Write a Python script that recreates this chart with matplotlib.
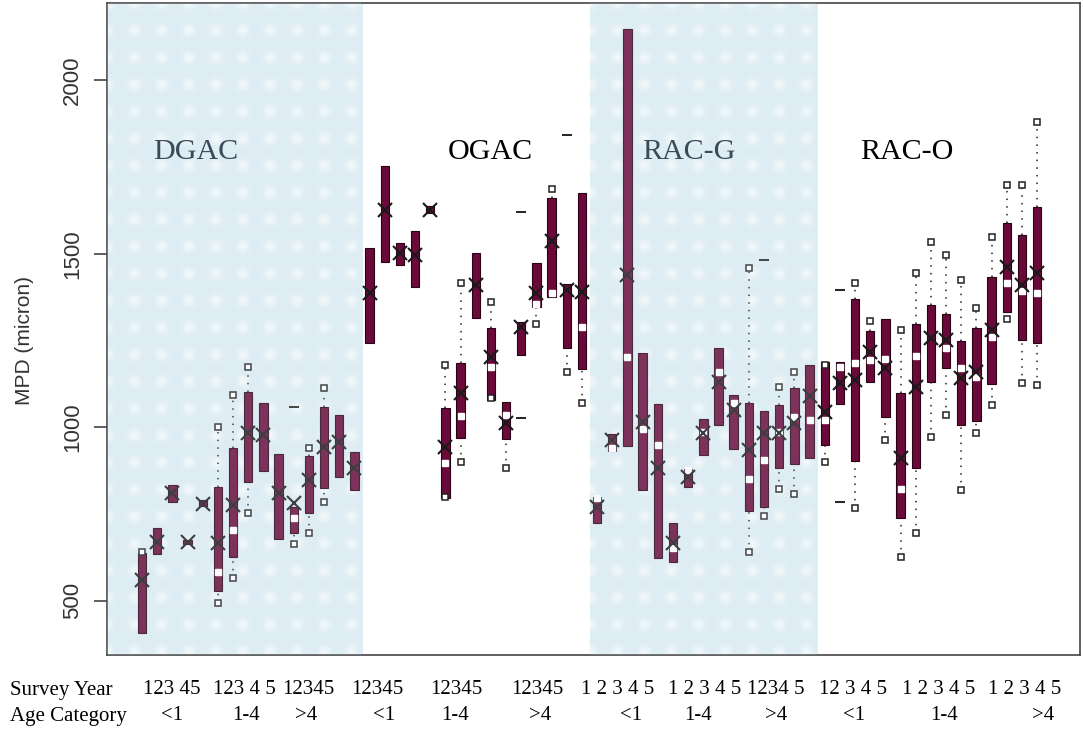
import numpy as np
import matplotlib
matplotlib.use('Agg')
import matplotlib.pyplot as plt

nan = np.nan

groups = ['DGAC', 'OGAC', 'RAC-G', 'RAC-O']
ages = ['<1', '1-4', '>4']

# 15 boxes per group: age <1, 1-4, >4, each survey year 1..5
box_lo = [408, 635, 785, 664, 772, 529, 627, 843, 875, 679, 696, 754, 826, 857, 820,
          1243, 1477, 1468, 1405, 1617, 797, 970, 1316, 1079, 967, 1209, 1347, 1377, 1229, 1169,
          725, 932, 947, 820, 624, 612, 828, 921, 1007, 938, 759, 771, 883, 895, 912,
          950, 1068, 903, 1131, 1030, 739, 883, 1131, 1171, 1007, 1019, 1125, 1333, 1252, 1243]
box_hi = [638, 710, 834, 676, 790, 828, 941, 1102, 1070, 924, 771, 918, 1059, 1036, 929,
          1517, 1754, 1532, 1566, 1638, 1056, 1186, 1503, 1287, 1073, 1304, 1474, 1661, 1414, 1676,
          800, 981, 2148, 1215, 1066, 725, 880, 1024, 1229, 1093, 1070, 1047, 1065, 1114, 1180,
          1189, 1189, 1370, 1278, 1313, 1099, 1298, 1353, 1327, 1249, 1287, 1434, 1589, 1555, 1635]
medians = [nan, nan, nan, nan, nan, 584, 705, nan, nan, nan, 739, nan, nan, nan, nan,
           nan, nan, nan, nan, nan, 898, 1033, nan, 1174, 1036, nan, 1356, 1388, nan, 1290,
           797, 941, 1203, 995, 950, 653, 877, 987, 1160, 1070, 851, 906, 987, 1030, 1020,
           1022, 1175, 1186, 1195, 1197, 823, 1206, nan, 1229, 1171, 1146, 1261, 1416, 1393, 1388]
means = [560, 670, 811, 670, 780, 667, 777, 984, 978, 811, 782, 849, 944, 958, 883,
         1388, 1627, 1503, 1497, 1627, 944, 1099, 1411, 1203, 1013, 1290, 1388, 1536, 1396, 1391,
         771, 964, 1440, 1016, 883, 667, 857, 984, 1131, 1050, 935, 984, 984, 1012, 1090,
         1045, 1128, 1137, 1218, 1171, 912, 1117, 1258, 1252, 1143, 1160, 1281, 1463, 1411, 1445]
upper_out = [640, nan, nan, nan, nan, 1001, 1094, 1174, nan, nan, nan, 941, 1114, nan, nan,
             nan, nan, nan, nan, nan, 1180, 1416, nan, 1362, nan, nan, nan, 1686, nan, nan,
             nan, nan, nan, nan, nan, nan, nan, nan, nan, nan, 1460, nan, 1117, 1160, nan,
             1180, nan, 1416, 1307, nan, 1281, 1445, 1535, 1497, 1425, 1345, 1549, 1699, 1699, 1880]
lower_out = [nan, nan, nan, nan, nan, 494, 566, 754, nan, nan, 664, 696, 785, nan, nan,
             nan, nan, nan, nan, nan, 800, 900, nan, 1085, 883, nan, 1298, nan, 1160, 1071,
             nan, nan, nan, nan, nan, nan, nan, nan, nan, nan, 641, 745, 823, 808, nan,
             900, nan, 768, nan, 963, 627, 696, 973, 1036, 820, 984, 1065, 1313, 1128, 1122]
# far points drawn as short dashes: (box index, value)
dash_box = [10, 25, 25, 28, 41, 46, 46]
dash_val = [1059, 1620, 1027, 1843, 1483, 1396, 785]

year_labels = ['123 45', '123 4 5', '12345', '12345', '12345', '12345',
               '1 2 3 4 5', '1 2 3 4 5', '1234 5', '12 3 4 5', '1 2 3 4 5', '1 2 3 4 5']

maroon = '#6a0a3a'
x = np.arange(len(box_lo))


def dotted_fill(ax, x0, x1, y0, y1):
    w = int((x1 - x0) * 15.2)
    h = 652
    xx, yy = np.meshgrid(np.arange(w), np.arange(h))
    blob = (0.5 + 0.5 * np.cos(2 * np.pi * xx / 27)) * (0.5 + 0.5 * np.cos(2 * np.pi * yy / 27))
    base = np.array([0.875, 0.935, 0.958])
    img = base + (1 - base) * (blob[..., None] ** 2) * 0.75
    ax.imshow(img, extent=(x0, x1, y0, y1), aspect='auto', zorder=0, interpolation='bilinear')
    ax.axvspan(x0, x1, color='#d8eaf2', alpha=0.18, zorder=5, lw=0)


fig = plt.figure(figsize=(10.83, 7.29), dpi=100)
ax = fig.add_axes([107 / 1083, 1 - 655 / 729, 973 / 1083, 652 / 729])

ylo, yhi = 344, 2223
xlo, xhi = -2.31, 61.83
dotted_fill(ax, xlo, 14.5, ylo, yhi)
dotted_fill(ax, 29.5, 44.5, ylo, yhi)

lo = np.array(box_lo, float)
hi = np.array(box_hi, float)
ax.bar(x, hi - lo, bottom=lo, width=0.55, color=maroon, edgecolor='#2a0015', linewidth=0.8, zorder=3)

# dotted whiskers to the outer points
up = np.array(upper_out, float)
dn = np.array(lower_out, float)
m = ~np.isnan(up)
ax.vlines(x[m], hi[m], up[m], colors='#222222', linestyles=(0, (1, 4)), linewidth=1.1, zorder=2)
m = ~np.isnan(dn)
ax.vlines(x[m], dn[m], lo[m], colors='#222222', linestyles=(0, (1, 4)), linewidth=1.1, zorder=2)
ax.plot(x, up, 's', ms=5, mfc='white', mec='#222222', mew=1.1, ls='none', zorder=4)
ax.plot(x, dn, 's', ms=5, mfc='white', mec='#222222', mew=1.1, ls='none', zorder=4)
ax.plot(dash_box, dash_val, '_', ms=7, mew=1.4, color='#222222', ls='none', zorder=4)

ax.plot(x, medians, 's', ms=5, mfc='white', mec='white', ls='none', zorder=4)
ax.plot(x, means, 'x', ms=9.5, mew=1.5, color='#1a1a1a', ls='none', zorder=4)

ax.set_xlim(xlo, xhi)
ax.set_ylim(ylo, yhi)
ax.set_xticks([])
ax.set_yticks([500, 1000, 1500, 2000])
ax.tick_params(axis='y', labelrotation=90, length=9.4, width=1.1, pad=8,
               labelsize=16, colors='#333333')
for lab in ax.get_yticklabels():
    lab.set_va('center')
    lab.set_family('Liberation Sans')
ax.set_ylabel('MPD (micron)', fontsize=15, color='#333333', family='Liberation Sans')
ax.yaxis.set_label_coords(-0.075, 0.483)
for s in ax.spines.values():
    s.set_color('#444444')
    s.set_linewidth(1.2)

# group titles
title_x = [196, 490, 689, 907]
title_c = ['#3b4a58', 'black', '#3b4a58', 'black']
for name, tx, tc in zip(groups, title_x, title_c):
    fig.text(tx / 1083, 1 - 152 / 729, name, ha='center', va='center', fontsize=21.6,
             family='Liberation Serif', color=tc)

# survey year / age category rows
year_x = [143, 213, 282, 351, 430, 511, 581, 668, 747, 819, 902, 988]
age_x = [172, 246, 306, 384, 455, 540, 631, 698, 776, 854, 944, 1043]
fig.text(10 / 1083, 1 - 690 / 729, 'Survey Year', ha='left', va='center', fontsize=15,
         family='Liberation Serif')
fig.text(10 / 1083, 1 - 716 / 729, 'Age Category', ha='left', va='center', fontsize=15,
         family='Liberation Serif')
for lab, px in zip(year_labels, year_x):
    fig.text(px / 1083, 1 - 690 / 729, lab, ha='left', va='center', fontsize=15,
             family='Liberation Serif')
for i, px in enumerate(age_x):
    fig.text(px / 1083, 1 - 716 / 729, ages[i % 3], ha='center', va='center', fontsize=15,
             family='Liberation Serif')

fig.savefig('out.png', dpi=100)
